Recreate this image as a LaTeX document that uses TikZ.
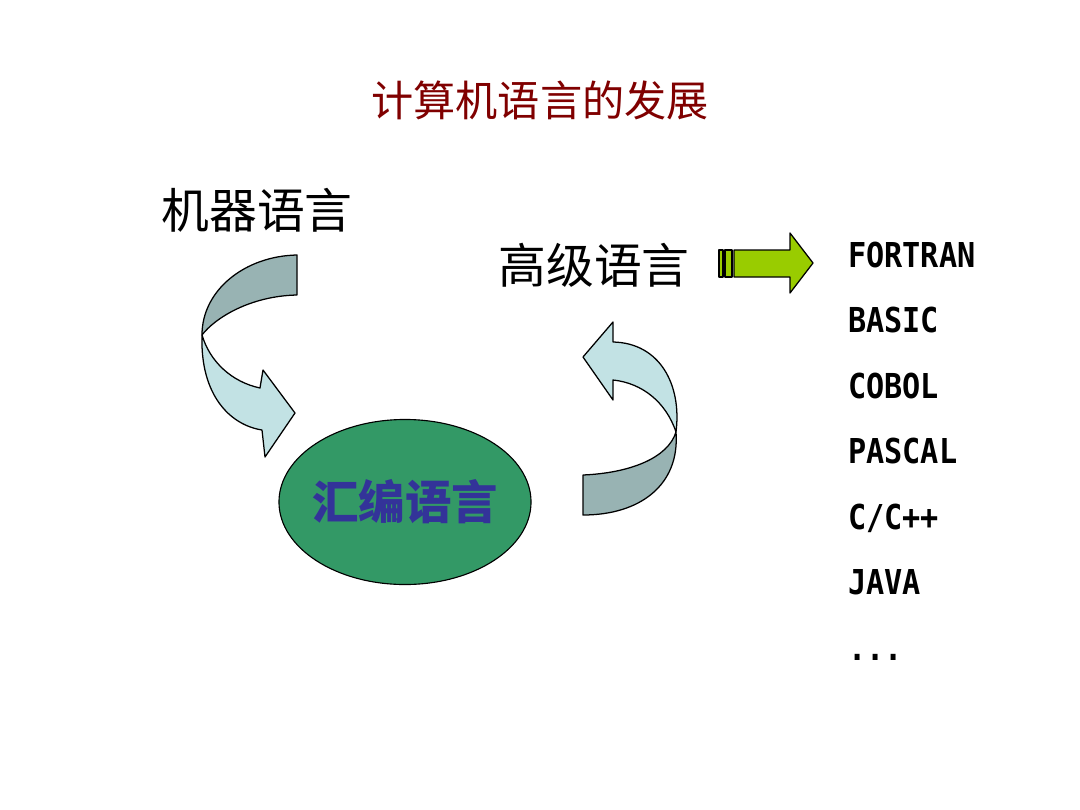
\documentclass[tikz,border=0pt]{standalone}
\usepackage{fontspec}
\usepackage{xcolor}
\usepackage{tikz}
\usetikzlibrary{positioning,shapes.geometric}
\newfontfamily\cjk{Noto Sans CJK SC}
\newfontfamily\langmono[FakeStretch=0.88]{DejaVu Sans Mono}
\definecolor{titlered}{HTML}{800000}
\definecolor{asmgreen}{HTML}{339966}
\definecolor{asmblue}{HTML}{333399}
\definecolor{ribbondark}{HTML}{98B3B3}
\definecolor{ribbonlight}{HTML}{C2E2E4}
\definecolor{limegreen}{HTML}{99CC00}

\begin{document}
\begin{tikzpicture}[
  x=0.025cm, y=-0.025cm,
  title/.style={font=\cjk\fontsize{30pt}{36pt}\selectfont, text=titlered, inner sep=0pt},
  stage/.style={font=\cjk\fontsize{34pt}{40pt}\selectfont, inner sep=0pt},
  lang/.style={font=\langmono\bfseries\fontsize{24.4pt}{29pt}\selectfont, text width=3.4cm, align=left,
               text height=0.625cm, text depth=0.1cm, inner sep=0pt},
  ribbon/.style={draw=black, line width=0.9pt, line join=round},
  node distance=9mm,
]
\fill[white] (0,0) rectangle (1080,810);
\useasboundingbox (0,0) rectangle (1080,810);

\node[title] (head) at (540,100) {计算机语言的发展};
\node[stage] (machine) at (257,210) {机器语言};
\node[stage] (high) at (594,265) {高级语言};
\node[ellipse, draw, line width=0.8pt, fill=asmgreen, minimum width=6.3cm, minimum height=4.125cm,
      inner sep=0pt] (asm) at (405,502) {};
\node[font=\cjk\bfseries\fontsize{33pt}{40pt}\selectfont, text=asmblue, inner sep=0pt] (asmtext) at (asm.center) {汇编语言};

% curved arrow: machine -> assembly
\draw[ribbon, fill=ribbonlight] (202,335) .. controls (200,395) and (230,425) .. (262,430)
  -- (265,457) -- (295,413) -- (263,370) -- (260,388)
  .. controls (232,382) and (210,362) .. (202,335) -- cycle;
\draw[ribbon, fill=ribbondark] (297,255) .. controls (245,256) and (202,290) .. (202,335)
  .. controls (215,318) and (250,296) .. (297,295) -- cycle;

% curved arrow: assembly -> high level
\draw[ribbon, fill=ribbonlight] (676,432) .. controls (682,385) and (660,343) .. (613,342)
  -- (613,322) -- (583,357) -- (613,400) -- (613,380)
  .. controls (642,383) and (666,402) .. (676,432) -- cycle;
\draw[ribbon, fill=ribbondark] (676,432) .. controls (680,485) and (640,515) .. (583,515)
  -- (583,475) .. controls (630,473) and (668,458) .. (676,432) -- cycle;

% striped arrow to the list
\draw[ribbon, fill=limegreen] (719,250) rectangle (723,277);
\draw[ribbon, fill=limegreen] (725,250) rectangle (732,277);
\draw[ribbon, fill=limegreen] (734,250) -- (790,250) -- (790,233) -- (813,263)
  -- (790,293) -- (790,277) -- (734,277) -- cycle;

\node[lang, anchor=base west] (fortran) at (848,267) {FORTRAN};
\node[lang, below=of fortran] (basic) {BASIC};
\node[lang, below=of basic] (cobol) {COBOL};
\node[lang, below=of cobol] (pascal) {PASCAL};
\node[lang, below=of pascal] (cpp) {C/C++};
\node[lang, below=of cpp] (java) {JAVA};
\node[lang, below=of java] (more) {...};
\end{tikzpicture}
\end{document}
